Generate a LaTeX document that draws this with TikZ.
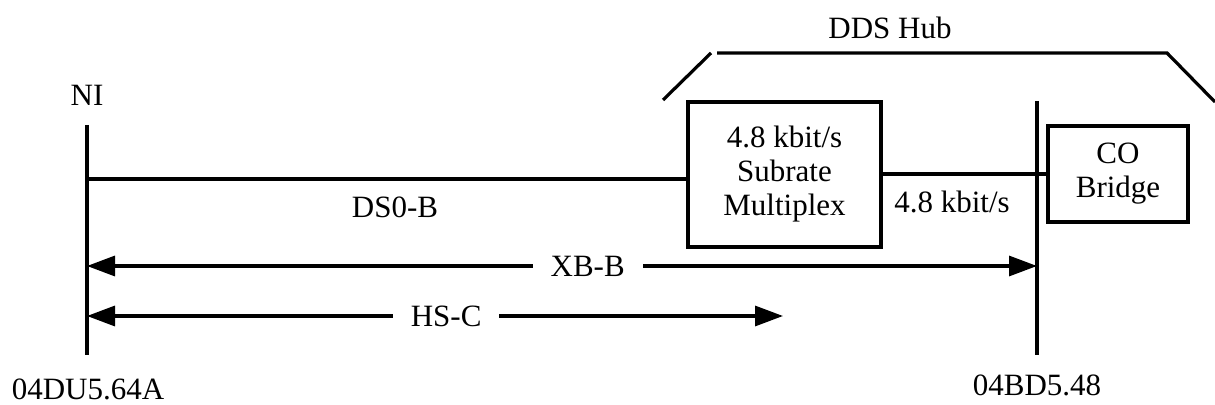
\documentclass[tikz,border=0pt]{standalone}
\usepackage{fontspec}
\setmainfont{Liberation Serif}
\usetikzlibrary{arrows.meta}
\usetikzlibrary{positioning}

\begin{document}
\begin{tikzpicture}[x=0.5pt, y=-0.5pt, > = {Triangle[length=14pt,width=10pt]}, line width=1.6pt,
font=\fontsize{15.5}{17}\selectfont,
block/.style={draw, align=center, inner sep=0pt},
gaplabel/.style={fill=white, inner xsep=9pt, inner ysep=1pt},
]
	\useasboundingbox (0,0) rectangle (1215,405);

	\node[block, minimum width=96.5pt, minimum height=72.5pt] (mux) at (784.5,174.5) {4.8 kbit/s\\Subrate\\Multiplex};
	\node[block, minimum width=70pt, minimum height=48pt] (bridge) at (1118,174) {CO\\Bridge};

	\coordinate (niTop) at (87,125); \coordinate (niBot) at (87,355); % NI side
	\coordinate (coTop) at (1037,101); \coordinate (coBot) at (1037,355); % CO side
	\draw (niTop) -- (niBot);
	\draw (coTop) -- (coBot);

	\node (ni) at (87,95) {NI};
	\node (niCode) at (88,389) {04DU5.64A};
	\node (coCode) at (1037,385) {04BD5.48};

	\coordinate (ds) at (87,179);
	\draw (ds) -- (ds -| mux.west);
	\node (dsLabel) at (395,207) {DS0-B};

	\draw (mux.east |- bridge.west) -- (bridge.west);
	\node (rateLabel) at (952,202) {4.8 kbit/s};

	\draw[<->] (87,266) -- (1037,266) node[gaplabel, pos=0.527] (xb) {XB-B};
	\draw[<->] (87,316) -- (783,316) node[gaplabel, pos=0.516] (hs) {HS-C};

	% hub bracket
	\draw (663,100) -- (711,53);
	\draw (717,53) -- (1167,53) -- (1215,102);
	\node (hub) at (890,28) {DDS Hub};

\end{tikzpicture}
\end{document}
